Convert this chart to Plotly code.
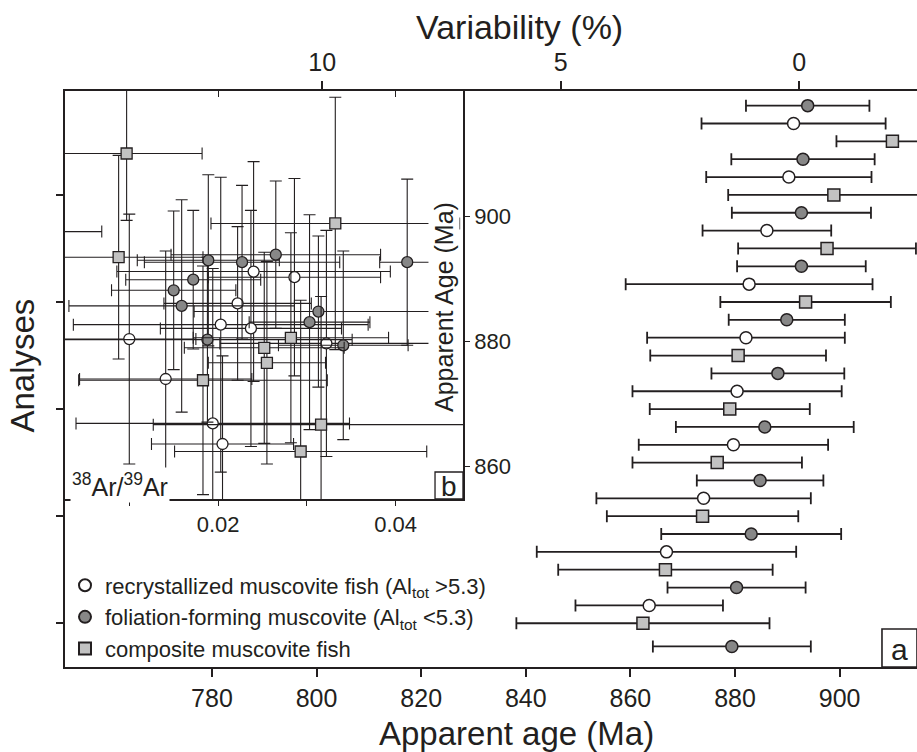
# Ar-Ar apparent ages of muscovite analyses, with 38Ar/39Ar inset
import plotly.graph_objects as go

FONT = "Liberation Sans, Arial, Helvetica, sans-serif"
INK = "#231f20"

# ==== Data ====
analysis_pos = [1, 2, 3, 4, 5, 6, 7, 8, 9, 10, 11, 12, 13, 14, 15, 16,
                17, 18, 19, 20, 21, 22, 23, 24, 25, 26, 27, 28, 29, 30, 31.3]
mica_type = ["F", "R", "C", "F", "R", "C", "F", "R", "C", "F", "R", "C", "F", "R", "C", "F",
             "R", "C", "F", "R", "C", "F", "R", "C", "F", "R", "C", "F", "R", "C", "F"]
age_ma = [893.9, 891.2, 910.1, 893.0, 890.3, 898.9, 892.7, 886.1, 897.6, 892.7, 882.7,
          893.5, 889.9, 882.1, 880.6, 888.2, 880.4, 879.0, 885.7, 879.7, 876.6, 884.8,
          874.0, 873.8, 883.1, 866.9, 866.7, 880.3, 863.6, 862.4, 879.4]
age_err = [11.8, 17.6, 10.7, 13.7, 15.8, 20.2, 13.3, 12.3, 17.0, 12.3, 23.6,
           16.3, 11.1, 18.9, 16.8, 12.7, 20.0, 15.3, 17.0, 18.1, 16.2, 12.1,
           20.5, 18.3, 17.2, 24.8, 20.5, 13.2, 14.1, 24.2, 15.1]
ar_ratio = [0.0265, 0.0240, 0.0097, 0.0189, 0.0286, 0.0332, 0.0413, 0.0222, 0.0005, 0.0227, 0.0203,
            0.0088, 0.0172, 0.0237, 0.0282, 0.0150, 0.0100, 0.0252, 0.0159, 0.0322, 0.0255, 0.0313,
            0.0141, 0.0183, 0.0303, 0.0194, 0.0316, 0.0188, 0.0205, 0.0293, 0.0341]
ar_ratio_err = [0.0118, 0.0154, 0.0085, 0.0080, 0.0097, 0.0140, 0.0031, 0.0083, 0.0064, 0.0110, 0.0166,
                0.0095, 0.0076, 0.0102, 0.0110, 0.0070, 0.0075, 0.0090, 0.0127, 0.0120, 0.0066, 0.0140,
                0.0097, 0.0140, 0.0068, 0.0154, 0.0189, 0.0163, 0.0080, 0.0142, 0.0073]

groups = [
    ("R", "recrystallized muscovite fish (Al<sub>tot</sub> &gt;5.3)", "circle", "white"),
    ("F", "foliation-forming muscovite (Al<sub>tot</sub> &lt;5.3)", "circle", "#878787"),
    ("C", "composite muscovite fish", "square", "#c2c2c2"),
]

fig = go.Figure()

for code, label, symbol, fill in groups:
    idx = [i for i, t in enumerate(mica_type) if t == code]
    # main panel (a): apparent age per analysis
    fig.add_trace(go.Scatter(
        x=[age_ma[i] for i in idx],
        y=[analysis_pos[i] for i in idx],
        mode="markers",
        name=label,
        marker=dict(symbol=symbol, size=12, color=fill, line=dict(color=INK, width=1.5)),
        error_x=dict(type="data", array=[age_err[i] for i in idx],
                     color=INK, thickness=1.8, width=6),
        xaxis="x", yaxis="y",
    ))

for code, label, symbol, fill in groups:
    idx = [i for i, t in enumerate(mica_type) if t == code]
    # inset (b): 38Ar/39Ar vs apparent age
    fig.add_trace(go.Scatter(
        x=[ar_ratio[i] for i in idx],
        y=[age_ma[i] for i in idx],
        mode="markers",
        showlegend=False,
        marker=dict(symbol=symbol, size=11, color=fill, line=dict(color=INK, width=1.3)),
        error_x=dict(type="data", array=[ar_ratio_err[i] for i in idx],
                     color=INK, thickness=1.1, width=6),
        error_y=dict(type="data", array=[age_err[i] for i in idx],
                     color=INK, thickness=1.1, width=6),
        xaxis="x3", yaxis="y3",
    ))

# empty traces so the secondary axes (variability scale, inset top ticks) get drawn
fig.add_trace(go.Scatter(x=[], y=[], xaxis="x2", yaxis="y", showlegend=False, hoverinfo="skip"))
fig.add_trace(go.Scatter(x=[], y=[], xaxis="x4", yaxis="y3", showlegend=False, hoverinfo="skip"))

axis_common = dict(showgrid=False, zeroline=False, showline=True, linecolor=INK,
                   tickcolor=INK, ticks="outside")

fig.update_layout(
    width=917, height=752,
    margin=dict(l=65, r=0, t=91, b=85),
    plot_bgcolor="white", paper_bgcolor="white",
    font=dict(family=FONT, color=INK, size=25),
    xaxis=dict(axis_common, domain=[0, 1], anchor="y", range=[751.9, 914.8],
               tickvals=[780, 800, 820, 840, 860, 880, 900], ticklen=8, tickwidth=1.5,
               linewidth=2, tickfont=dict(size=25)),
    xaxis2=dict(axis_common, overlaying="x", side="top", anchor="y", range=[15.39, -2.47],
                tickvals=[10, 5, 0], ticklen=8, tickwidth=1.5, linewidth=2,
                tickfont=dict(size=25)),
    yaxis=dict(axis_common, domain=[0, 1], anchor="x", range=[32.45, 0.18],
               tickvals=[6, 12, 18, 24, 30], showticklabels=False, ticklen=7,
               tickwidth=1.5, linewidth=2),
    xaxis3=dict(axis_common, domain=[0, 0.4671], anchor="y3", range=[0.00276, 0.04758],
                tickvals=[0.02, 0.04], ticklen=5, tickwidth=1.2, linewidth=1.6, mirror=True,
                tickfont=dict(size=22),
                minor=dict(tickvals=[0.01, 0.03], ticks="outside", ticklen=5,
                           tickwidth=1.2, tickcolor=INK, showgrid=False)),
    xaxis4=dict(showgrid=False, zeroline=False, overlaying="x3", anchor="y3", side="top",
                range=[0.00276, 0.04758], tickvals=[0.02, 0.04], ticks="inside",
                ticklen=6, tickcolor=INK, tickwidth=1.2, showticklabels=False),
    yaxis3=dict(axis_common, domain=[0.2917, 1], anchor="x3", side="right",
                range=[854.8, 920.1], tickvals=[860, 880, 900], ticklen=5,
                tickwidth=1.2, linewidth=1.6, mirror=True, tickfont=dict(size=22)),
    legend=dict(x=0.0, y=0.178, xanchor="left", yanchor="top",
                bgcolor="rgba(0,0,0,0)", font=dict(size=22), itemsizing="constant",
                tracegroupgap=0),
    shapes=[
        dict(type="rect", xref="paper", yref="paper", x0=0.4343, x1=0.4671,
             y0=0.2917, y1=0.3385, line=dict(color=INK, width=1.3),
             fillcolor="white", layer="above"),
        dict(type="rect", xref="paper", yref="paper", x0=0.9589, x1=1.0,
             y0=0.0, y1=0.066, line=dict(color=INK, width=1.6),
             fillcolor="white", layer="above"),
    ],
    annotations=[
        dict(text="Variability (%)", x=0.534, y=1.111, xref="paper", yref="paper",
             xanchor="center", yanchor="middle", showarrow=False, font=dict(size=34)),
        dict(text="Apparent age (Ma)", x=0.5305, y=-0.1146, xref="paper", yref="paper",
             xanchor="center", yanchor="middle", showarrow=False, font=dict(size=33)),
        dict(text="Analyses", x=-0.05, y=0.524, xref="paper", yref="paper",
             xanchor="center", yanchor="middle", textangle=-90, showarrow=False,
             font=dict(size=33)),
        dict(text="Apparent Age (Ma)", x=0.4448, y=0.625, xref="paper", yref="paper",
             xanchor="center", yanchor="middle", textangle=-90, showarrow=False,
             font=dict(size=25), bgcolor="white"),
        dict(text="<sup>38</sup>Ar/<sup>39</sup>Ar", x=0.006, y=0.316, xref="paper",
             yref="paper", xanchor="left", yanchor="middle", showarrow=False,
             font=dict(size=25), bgcolor="white"),
        dict(text="b", x=0.4507, y=0.3142, xref="paper", yref="paper",
             xanchor="center", yanchor="middle", showarrow=False, font=dict(size=28)),
        dict(text="a", x=0.9795, y=0.031, xref="paper", yref="paper",
             xanchor="center", yanchor="middle", showarrow=False, font=dict(size=30)),
    ],
)

# drop the browser's default 8px body margin so the figure sits at the page origin
fig.write_html("out.html", config={"displayModeBar": False},
               post_script="document.body.style.margin='0';")
